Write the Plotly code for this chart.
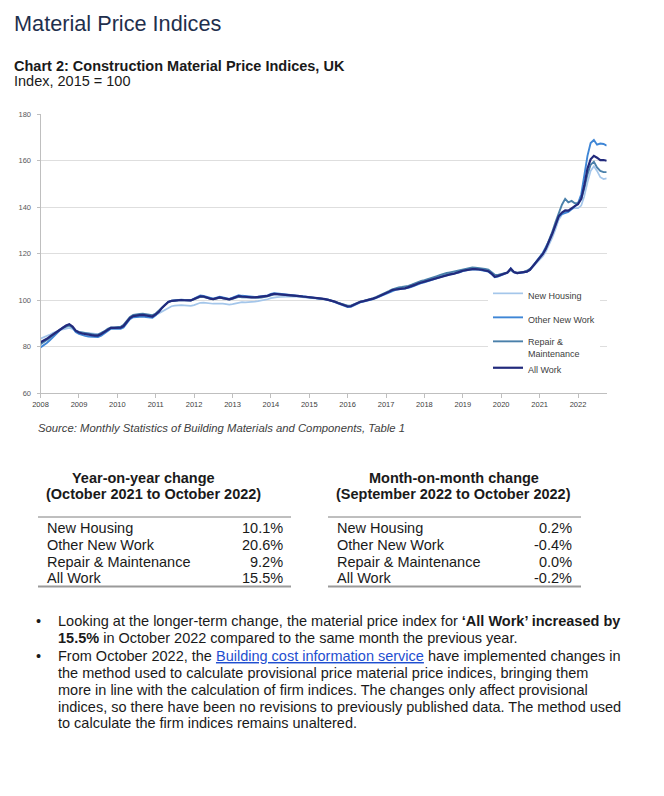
import pandas as pd
import plotly.graph_objects as go

# ---------------- data ----------------
series_names = ["New Housing", "Other New Work", "Repair &<br>Maintenance", "All Work"]
months = pd.date_range("2008-01-01", periods=178, freq="MS")
year_ticks = [f"{y}-01-01" for y in range(2008, 2023)]
year_labels = [str(y) for y in range(2008, 2023)]

new_housing = [
    83.4, 83.9, 84.5, 85.2, 85.9, 86.6, 87.0, 87.4, 87.8, 88.0, 87.5, 86.6,
    86.2, 86.0, 85.8, 85.6, 85.4, 85.3, 85.3, 85.7, 86.4, 87.2, 87.8, 87.9,
    88.0, 88.3, 89.0, 90.5, 92.0, 92.9, 93.3, 93.5, 93.6, 93.4, 93.2, 93.0,
    93.5, 94.3, 95.2, 96.0, 96.8, 97.3, 97.6, 97.8, 97.8, 97.7, 97.6, 97.5,
    97.8, 98.3, 98.8, 98.9, 98.7, 98.5, 98.4, 98.5, 98.6, 98.4, 98.2, 98.0,
    98.2, 98.6, 99.0, 99.1, 99.0, 99.0, 99.1, 99.3, 99.5, 99.7, 99.9, 100.3,
    100.8, 101.1, 101.2, 101.3, 101.4, 101.4, 101.5, 101.5, 101.4, 101.3, 101.2, 101.1,
    101.0, 100.9, 100.8, 100.7, 100.6, 100.4, 100.1, 99.7, 99.3, 98.8, 98.3, 97.9,
    97.5, 97.6, 98.1, 98.8, 99.2, 99.5, 99.8, 100.2, 100.7, 101.2, 101.8, 102.4,
    103.1, 103.7, 104.4, 104.8, 105.1, 105.3, 105.5, 105.8, 106.2, 106.7, 107.3, 107.7,
    108.0, 108.4, 108.8, 109.3, 109.9, 110.4, 110.9, 111.3, 111.6, 111.8, 112.1, 112.6,
    113.0, 113.3, 113.5, 113.7, 113.7, 113.6, 113.3, 113.0, 112.8, 112.0, 110.7, 110.7,
    111.1, 111.6, 111.8, 113.0, 111.8, 111.5, 111.6, 111.8, 112.3, 113.0, 114.3, 115.8,
    117.4, 118.8, 120.8, 123.5, 126.8, 130.5, 134.5, 136.7, 137.9, 138.3, 139.2, 139.5,
    139.5, 140.6, 144.5, 150.5, 155.5, 157.5, 155.5, 152.8, 152.0, 152.3,
]

other_new_work = [
    79.6, 80.4, 81.5, 82.8, 84.2, 85.6, 87.0, 88.2, 89.0, 89.4, 88.2, 86.2,
    85.4, 84.9, 84.6, 84.3, 84.2, 84.1, 84.1, 84.7, 85.7, 86.9, 87.6, 87.6,
    87.5, 87.6, 88.2, 90.0, 91.8, 92.6, 92.8, 92.9, 92.9, 92.7, 92.5, 92.4,
    93.4, 94.8, 96.5, 98.0, 99.2, 99.7, 99.9, 100.0, 100.1, 100.0, 99.9, 99.9,
    100.6, 101.3, 101.9, 101.8, 101.3, 100.8, 100.6, 101.0, 101.4, 101.1, 100.7, 100.5,
    101.0, 101.6, 102.1, 101.8, 101.6, 101.4, 101.3, 101.3, 101.4, 101.5, 101.6, 102.0,
    102.6, 102.9, 102.8, 102.7, 102.6, 102.5, 102.4, 102.2, 102.0, 101.8, 101.6, 101.4,
    101.2, 101.0, 100.9, 100.7, 100.6, 100.4, 100.1, 99.6, 99.2, 98.6, 98.0, 97.5,
    97.0, 97.1, 97.7, 98.6, 99.0, 99.3, 99.6, 100.0, 100.4, 100.9, 101.5, 102.0,
    102.7, 103.4, 104.1, 104.4, 104.6, 104.7, 104.8, 105.2, 105.7, 106.3, 106.9, 107.3,
    107.6, 108.0, 108.4, 108.8, 109.3, 109.8, 110.3, 110.6, 110.8, 111.0, 111.3, 111.9,
    112.4, 112.8, 113.0, 113.2, 113.2, 113.1, 112.8, 112.5, 112.2, 111.2, 109.8, 110.1,
    110.7, 111.3, 111.7, 113.6, 112.0, 111.5, 111.6, 111.7, 112.1, 113.0, 114.7, 116.6,
    118.5, 120.3, 122.6, 125.5, 128.8, 132.3, 135.8, 137.0, 137.6, 137.9, 139.0, 140.2,
    141.6, 145.5, 153.5, 162.0, 167.5, 168.8, 166.8, 167.3, 167.1, 166.4,
]

repair_maintenance = [
    81.0, 81.8, 82.8, 83.9, 85.0, 86.2, 87.2, 88.0, 88.6, 89.0, 88.2, 86.8,
    86.3, 86.0, 85.7, 85.5, 85.3, 85.1, 85.1, 85.7, 86.6, 87.6, 88.2, 88.2,
    88.3, 88.5, 89.3, 91.0, 92.7, 93.6, 93.9, 94.0, 94.1, 93.8, 93.6, 93.5,
    94.2, 95.3, 96.7, 98.0, 99.1, 99.6, 99.8, 99.9, 100.0, 99.9, 99.8, 99.8,
    100.3, 100.8, 101.3, 101.3, 100.9, 100.5, 100.3, 100.6, 100.9, 100.7, 100.4, 100.2,
    100.5, 100.9, 101.4, 101.2, 101.1, 101.0, 100.9, 100.9, 101.0, 101.1, 101.2, 101.6,
    102.0, 102.4, 102.4, 102.3, 102.3, 102.2, 102.2, 102.0, 101.8, 101.6, 101.4, 101.3,
    101.1, 101.0, 100.9, 100.7, 100.6, 100.4, 100.1, 99.8, 99.4, 98.9, 98.4, 98.0,
    97.6, 97.6, 98.1, 98.9, 99.3, 99.6, 99.9, 100.3, 100.8, 101.3, 101.9, 102.5,
    103.2, 103.9, 104.6, 105.1, 105.4, 105.6, 105.8, 106.1, 106.6, 107.2, 107.8, 108.2,
    108.5, 108.9, 109.3, 109.8, 110.3, 110.8, 111.3, 111.6, 111.9, 112.2, 112.5, 113.0,
    113.4, 113.7, 113.9, 114.0, 113.9, 113.8, 113.6, 113.4, 113.1, 112.2, 110.9, 110.8,
    111.2, 111.7, 111.9, 112.9, 112.0, 111.8, 111.9, 112.1, 112.6, 113.4, 114.8, 116.5,
    118.3, 120.0, 122.3, 125.5, 129.3, 133.5, 137.5, 141.0, 143.5, 142.0, 142.6, 141.6,
    141.8, 143.5, 148.0, 154.0, 158.2, 159.5, 157.0, 155.5, 155.0, 155.0,
]

all_work = [
    81.8, 82.5, 83.3, 84.3, 85.3, 86.3, 87.3, 88.2, 89.0, 89.6, 88.6, 86.8,
    86.0, 85.6, 85.3, 85.1, 84.9, 84.7, 84.7, 85.4, 86.3, 87.3, 88.0, 88.0,
    88.0, 88.1, 88.8, 90.5, 92.2, 93.1, 93.4, 93.5, 93.6, 93.3, 93.0, 92.9,
    93.8, 95.0, 96.6, 98.0, 99.2, 99.6, 99.8, 99.9, 100.0, 99.9, 99.8, 99.8,
    100.4, 101.0, 101.6, 101.5, 101.0, 100.6, 100.4, 100.8, 101.1, 100.8, 100.5, 100.3,
    100.7, 101.2, 101.7, 101.5, 101.3, 101.2, 101.1, 101.1, 101.2, 101.3, 101.4, 101.8,
    102.3, 102.6, 102.5, 102.4, 102.4, 102.3, 102.3, 102.1, 101.9, 101.7, 101.5, 101.4,
    101.2, 101.0, 100.9, 100.7, 100.6, 100.4, 100.1, 99.7, 99.3, 98.7, 98.1, 97.7,
    97.2, 97.3, 97.9, 98.8, 99.2, 99.5, 99.8, 100.2, 100.6, 101.1, 101.7, 102.2,
    102.9, 103.6, 104.3, 104.6, 104.8, 104.9, 105.0, 105.4, 105.9, 106.5, 107.1, 107.5,
    107.8, 108.2, 108.6, 109.0, 109.5, 110.0, 110.5, 110.8, 111.0, 111.2, 111.5, 112.1,
    112.6, 112.9, 113.1, 113.3, 113.3, 113.3, 113.0, 112.7, 112.4, 111.4, 110.0, 110.3,
    110.9, 111.5, 111.8, 113.5, 112.0, 111.6, 111.7, 111.8, 112.2, 113.0, 114.6, 116.4,
    118.2, 119.8, 122.0, 125.0, 128.5, 132.2, 136.0, 137.6, 138.5, 138.4, 139.6, 140.4,
    141.2, 143.5, 149.0, 156.5, 160.5, 162.0, 161.2, 160.2, 160.2, 159.9,
]

table_rows = ["New Housing", "Other New Work", "Repair & Maintenance", "All Work"]
yoy_values = ["10.1%", "20.6%", "9.2%", "15.5%"]
mom_values = ["0.2%", "-0.4%", "0.0%", "-0.2%"]

for s in (new_housing, other_new_work, repair_maintenance, all_work):
    assert len(s) == len(months)

# ---------------- figure ----------------
W, H = 664, 796


def px(x):
    return x / W


def py(y):
    return 1 - y / H


colors = ["#a4c6ea", "#3f86d6", "#4a80aa", "#222a7c"]
widths = [1.7, 1.9, 1.9, 2.2]
groups = ["g1", "g2", "g3", "g3"]
values = [new_housing, other_new_work, repair_maintenance, all_work]

fig = go.Figure()
for name, vals, c, w, g in zip(series_names, values, colors, widths, groups):
    fig.add_trace(go.Scatter(
        x=months, y=vals, name=name, mode="lines",
        line=dict(color=c, width=w), legendgroup=g,
    ))

FONT = "Liberation Sans, Arial, sans-serif"

fig.update_layout(
    width=W, height=H,
    margin=dict(l=0, r=0, t=0, b=0, pad=0, autoexpand=False),
    paper_bgcolor="white", plot_bgcolor="white",
    font=dict(family=FONT, color="#262626"),
    showlegend=True,
    legend=dict(
        x=px(488), y=py(281), xanchor="left", yanchor="top",
        bgcolor="white", borderwidth=0,
        font=dict(family=FONT, size=9, color="#404040"),
        tracegroupgap=5, itemwidth=30, valign="top",
    ),
    xaxis=dict(
        domain=[px(40.5), px(606.7)],
        type="date", automargin=False,
        range=["2008-01-01", "2022-10-01"],
        showgrid=False, zeroline=False,
        showline=True, linecolor="#bfbfbf", linewidth=1,
        ticks="outside", ticklen=4, tickcolor="#bfbfbf",
        tickmode="array", tickvals=year_ticks, ticktext=year_labels,
        tickfont=dict(family=FONT, size=7.5, color="#404040"),
    ),
    yaxis=dict(
        domain=[py(393), py(114)], automargin=False,
        range=[60, 180], dtick=20, tick0=60,
        showgrid=True, gridcolor="#dedede", gridwidth=1,
        zeroline=False,
        showline=True, linecolor="#bfbfbf", linewidth=1,
        ticks="outside", ticklen=3, tickcolor="#bfbfbf",
        ticklabelstandoff=4,
        tickfont=dict(family=FONT, size=7.5, color="#595959"),
    ),
)

ann = []


def text(x, y, t, size=14.5, color="#1a1a1a", anchor="left", family=FONT):
    ann.append(dict(
        x=px(x), y=py(y), xref="paper", yref="paper", text=t,
        showarrow=False, xanchor=anchor, yanchor="middle", align=anchor,
        borderpad=0, font=dict(family=family, size=size, color=color),
    ))


# headings
text(13, 23, "Material Price Indices", size=21.7, color="#1f2f4d")
text(13, 66, "<b>Chart 2: Construction Material Price Indices, UK</b>", size=14.5)
text(13, 81, "Index, 2015 = 100", size=14.5)
text(37, 428, "<i>Source: Monthly Statistics of Building Materials and Components, Table 1</i>",
     size=11.3, color="#404040")

# tables
text(143, 478, "<b>Year-on-year change</b>", anchor="center")
text(153, 494, "<b>(October 2021 to October 2022)</b>", anchor="center")
text(454, 478, "<b>Month-on-month change</b>", anchor="center")
text(454, 494, "<b>(September 2022 to October 2022)</b>", anchor="center")

row_y = [528, 545, 561.5, 578]
for label, yv, mv, ry in zip(table_rows, yoy_values, mom_values, row_y):
    text(46, ry, label)
    text(284, ry, yv, anchor="right")
    text(336, ry, label)
    text(573, ry, mv, anchor="right")

shapes = []
for x0, x1 in ((38, 291), (328, 581)):
    shapes.append(dict(type="line", xref="paper", yref="paper",
                       x0=px(x0), x1=px(x1), y0=py(517), y1=py(517),
                       line=dict(color="#7f7f7f", width=1)))
    shapes.append(dict(type="line", xref="paper", yref="paper",
                       x0=px(x0), x1=px(x1), y0=py(586.5), y1=py(586.5),
                       line=dict(color="#9a9a9a", width=2)))

# bullets
bullet_lines = [
    (621, "Looking at the longer-term change, the material price index for <b>‘All Work’ increased by</b>"),
    (638, "<b>15.5%</b> in October 2022 compared to the same month the previous year."),
    (656, "From October 2022, the <span style='color:#1f4fd0'><u>Building cost information service</u></span> have implemented changes in"),
    (673, "the method used to calculate provisional price material price indices, bringing them"),
    (690, "more in line with the calculation of firm indices. The changes only affect provisional"),
    (707, "indices, so there have been no revisions to previously published data. The method used"),
    (723, "to calculate the firm indices remains unaltered."),
]
for yy, t in bullet_lines:
    text(57, yy, t)
text(35, 621, "•")
text(35, 656, "•")

fig.update_layout(annotations=ann, shapes=shapes)

fig.write_html("out.html",
               post_script="document.body.style.margin='0';document.body.style.overflow='hidden';",
               config={"displayModeBar": False})
